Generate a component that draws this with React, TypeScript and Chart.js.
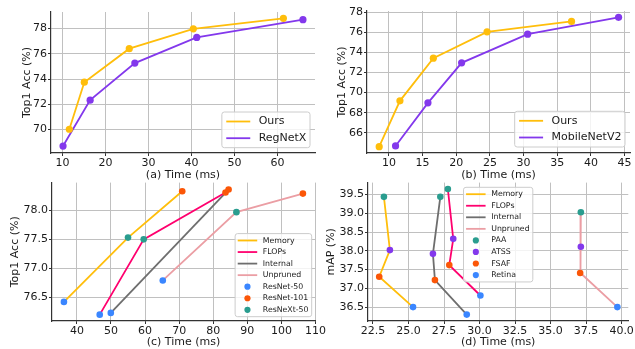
import React, { useEffect, useRef } from 'react';
import { Chart, registerables } from 'chart.js';

Chart.register(...registerables);

// ---------- (a) ImageNet: Ours vs RegNetX ----------
const xTicksA = [10, 20, 30, 40, 50, 60];
const yTicksA = [70, 72, 74, 76, 78];
const oursTimeA = [11.56, 15.05, 25.5, 40.4, 61.35];
const oursAccA = [70.03, 73.75, 76.4, 77.97, 78.8];
const regnetTimeA = [10.1, 16.4, 26.8, 41.2, 65.9];
const regnetAccA = [68.7, 72.33, 75.26, 77.29, 78.69];

// ---------- (b) Ours vs MobileNetV2 ----------
const xTicksB = [10, 15, 20, 25, 30, 35, 40, 45];
const yTicksB = [66, 68, 70, 72, 74, 76, 78];
const oursTimeB = [8.56, 11.64, 16.6, 24.58, 37.12];
const oursAccB = [64.63, 69.18, 73.42, 76.03, 77.06];
const mobileTimeB = [10.99, 15.8, 20.8, 30.6, 44.1];
const mobileAccB = [64.7, 68.98, 72.95, 75.8, 77.47];

// ---------- (c) pruning criteria on ResNet family ----------
const xTicksC = [40, 50, 60, 70, 80, 90, 100, 110];
const yTicksC = [76.5, 77.0, 77.5, 78.0];
const methods = ['Memory', 'FLOPs', 'Internal', 'Unpruned'];
// model order along each line: ResNet-50, ResNeXt-50, ResNet-101
const memoryTimeC = [36.2, 55.0, 70.9];
const memoryAccC = [76.42, 77.53, 78.33];
const flopsTimeC = [46.7, 59.6, 83.6];
const flopsAccC = [76.2, 77.5, 78.31];
const internalTimeC = [49.95, null, 84.5];
const internalAccC = [76.23, null, 78.36];
const unprunedTimeC = [65.2, 86.8, 106.3];
const unprunedAccC = [76.79, 77.97, 78.29];
const modelsC = ['ResNet-50', 'ResNet-101', 'ResNeXt-50'];
const modelIndexC = [0, 2, 1];

// ---------- (d) detectors ----------
const xTicksD = [22.5, 25.0, 27.5, 30.0, 32.5, 35.0, 37.5, 40.0];
const yTicksD = [36.5, 37.0, 37.5, 38.0, 38.5, 39.0, 39.5];
// detector order along each line: PAA, ATSS, FSAF, Retina
const modelsD = ['PAA', 'ATSS', 'FSAF', 'Retina'];
const memoryTimeD = [23.27, 23.69, 22.94, 25.32];
const memoryMapD = [39.44, 38.02, 37.31, 36.5];
const flopsTimeD = [27.77, 28.15, 27.87, 30.06];
const flopsMapD = [39.65, 38.32, 37.62, 36.81];
const internalTimeD = [27.24, 26.72, 26.86, 29.1];
const internalMapD = [39.44, 37.92, 37.22, 36.3];
const unprunedTimeD = [37.13, 37.13, 37.08, 39.7];
const unprunedMapD = [39.03, 38.11, 37.41, 36.5];

// ---------- styling ----------
const FONT = '"DejaVu Sans", sans-serif';
const TEXT = '#1a1a1a';
const GRID = '#c0c0c0';
const SPINE = '#333333';
const YELLOW = '#ffbe0b';
const PURPLE = '#8338ec';
const PINK = '#ff006e';
const GRAY = '#6e6e6e';
const LIGHTPINK = '#eb9ea4';
const BLUE = '#3a86ff';
const ORANGE = '#fb5607';
const TEAL = '#2a9d8f';
const methodColors = [YELLOW, PINK, GRAY, LIGHTPINK];
const modelColorsC = [BLUE, ORANGE, TEAL];
const modelColorsD = [TEAL, PURPLE, ORANGE, BLUE];

const pts = (xs: (number | null)[], ys: (number | null)[]) =>
  xs.map((x, i) => ({ x: x as number, y: ys[i] as number }));

type LegendItem = { label: string; kind: 'line' | 'dot'; color: string };
type LegendOpts = {
  items: LegendItem[];
  loc: 'lower right' | 'upper center';
  offX: number;
  offY: number;
  fontSize: number;
  padX: number;
  padRight: number;
  padY: number;
  handle: number;
  gap: number;
  rowH: number;
  lineWidth: number;
  dotR: number;
};

function makeLegend(o: LegendOpts) {
  return {
    id: 'boxLegend',
    afterDatasetsDraw(chart: any) {
      const { ctx, chartArea: ca } = chart;
      ctx.save();
      ctx.font = `${o.fontSize}px ${FONT}`;
      const tw = Math.max(...o.items.map((it) => ctx.measureText(it.label).width));
      const w = o.padX + o.handle + o.gap + tw + o.padRight;
      const h = o.padY * 2 + o.fontSize + o.rowH * (o.items.length - 1);
      let x: number;
      let y: number;
      if (o.loc === 'upper center') {
        x = (ca.left + ca.right) / 2 - w / 2;
        y = ca.top + o.offY;
      } else {
        x = ca.right - o.offX - w;
        y = ca.bottom - o.offY - h;
      }
      ctx.beginPath();
      ctx.roundRect(x, y, w, h, 2.5);
      ctx.fillStyle = 'rgba(255,255,255,0.8)';
      ctx.fill();
      ctx.strokeStyle = '#cccccc';
      ctx.lineWidth = 1;
      ctx.stroke();
      o.items.forEach((it, i) => {
        const cy = y + o.padY + o.fontSize / 2 + i * o.rowH;
        const hx = x + o.padX;
        if (it.kind === 'line') {
          ctx.beginPath();
          ctx.strokeStyle = it.color;
          ctx.lineWidth = o.lineWidth;
          ctx.moveTo(hx, cy);
          ctx.lineTo(hx + o.handle, cy);
          ctx.stroke();
        } else {
          ctx.beginPath();
          ctx.fillStyle = it.color;
          ctx.arc(hx + o.handle / 2, cy, o.dotR, 0, Math.PI * 2);
          ctx.fill();
        }
        ctx.fillStyle = TEXT;
        ctx.textBaseline = 'middle';
        ctx.textAlign = 'left';
        ctx.fillText(it.label, hx + o.handle + o.gap, cy);
      });
      ctx.restore();
    },
  };
}

function axis(
  horizontal: boolean,
  min: number,
  max: number,
  ticks: number[],
  title: string,
  size: number,
  titlePad: number,
  decimals: number
) {
  return {
    type: 'linear',
    min,
    max,
    afterBuildTicks: (s: any) => {
      s.ticks = ticks.map((v) => ({ value: v }));
    },
    afterFit: (s: any) => {
      if (horizontal) s.height = size;
      else s.width = size;
    },
    ticks: {
      autoSkip: false,
      maxRotation: 0,
      minRotation: 0,
      padding: 1,
      color: TEXT,
      font: { family: FONT, size: 11 },
      callback: (v: any) => Number(v).toFixed(decimals),
    },
    grid: {
      color: GRID,
      lineWidth: 1,
      drawTicks: true,
      tickLength: 3,
      tickColor: SPINE,
      tickWidth: 1,
    },
    border: { display: true, color: SPINE, width: 1.2 },
    title: {
      display: true,
      text: title,
      color: TEXT,
      font: { family: FONT, size: 11 },
      padding: horizontal ? { top: 0, bottom: titlePad } : { top: titlePad, bottom: 0 },
    },
  };
}

function lineSeries(label: string, xs: any[], ys: any[], color: string, radius: number, order: number) {
  return {
    label,
    data: pts(xs, ys),
    showLine: true,
    spanGaps: true,
    borderColor: color,
    backgroundColor: color,
    borderWidth: 1.8,
    pointRadius: radius,
    pointBackgroundColor: color,
    pointBorderColor: color,
    pointBorderWidth: 0,
    tension: 0,
    order,
  };
}

function dotSeries(label: string, data: { x: number; y: number }[], color: string) {
  return {
    label,
    data,
    showLine: false,
    backgroundColor: color,
    borderColor: color,
    pointRadius: 3.3,
    pointBorderWidth: 0,
    order: 0,
  };
}

function baseOptions(padding: any, x: any, y: any) {
  return {
    responsive: false,
    animation: false,
    devicePixelRatio: 1,
    layout: { padding },
    scales: { x, y },
    plugins: { legend: { display: false }, tooltip: { enabled: false } },
  };
}

const bigLegend = {
  loc: 'lower right' as const,
  fontSize: 11,
  padX: 4.4,
  padRight: 3.6,
  padY: 4,
  handle: 24,
  gap: 8.4,
  rowH: 16.7,
  lineWidth: 1.8,
  dotR: 3.5,
};

const smallLegend = {
  fontSize: 7.8,
  padX: 2.6,
  padRight: 3.2,
  padY: 3,
  handle: 19.5,
  gap: 5.6,
  rowH: 11.55,
  lineWidth: 1.8,
  dotR: 3.1,
};

function configA() {
  return {
    type: 'scatter',
    data: {
      datasets: [
        lineSeries('Ours', oursTimeA, oursAccA, YELLOW, 3.6, 0),
        lineSeries('RegNetX', regnetTimeA, regnetAccA, PURPLE, 3.6, 1),
      ],
    },
    options: baseOptions(
      { left: 0, top: 12, right: 5, bottom: 0 },
      axis(true, 7.3, 68.7, xTicksA, '(a) Time (ms)', 29, 0.4, 0),
      axis(false, 68.15, 79.3, yTicksA, 'Top1 Acc (%)', 51, 20.9, 0)
    ),
    plugins: [
      makeLegend({
        ...bigLegend,
        items: [
          { label: 'Ours', kind: 'line', color: YELLOW },
          { label: 'RegNetX', kind: 'line', color: PURPLE },
        ],
        offX: 5,
        offY: 5.3,
      }),
    ],
  };
}

function configB() {
  return {
    type: 'scatter',
    data: {
      datasets: [
        lineSeries('Ours', oursTimeB, oursAccB, YELLOW, 3.6, 0),
        lineSeries('MobileNetV2', mobileTimeB, mobileAccB, PURPLE, 3.6, 1),
      ],
    },
    options: baseOptions(
      { left: 0, top: 11, right: 5, bottom: 0 },
      axis(true, 6.75, 45.8, xTicksB, '(b) Time (ms)', 29, 0.4, 0),
      axis(false, 64.0, 78.1, yTicksB, 'Top1 Acc (%)', 47, 15.9, 0)
    ),
    plugins: [
      makeLegend({
        ...bigLegend,
        items: [
          { label: 'Ours', kind: 'line', color: YELLOW },
          { label: 'MobileNetV2', kind: 'line', color: PURPLE },
        ],
        offX: 5,
        offY: 6,
      }),
    ],
  };
}

function configC() {
  const times = [memoryTimeC, flopsTimeC, internalTimeC, unprunedTimeC];
  const accs = [memoryAccC, flopsAccC, internalAccC, unprunedAccC];
  const lines = methods.map((m, i) => lineSeries(m, times[i], accs[i], methodColors[i], 0, 1));
  const dots = modelsC.map((name, k) => {
    const idx = modelIndexC[k];
    const data: { x: number; y: number }[] = [];
    times.forEach((t, i) => {
      if (t[idx] !== null) data.push({ x: t[idx] as number, y: accs[i][idx] as number });
    });
    return dotSeries(name, data, modelColorsC[k]);
  });
  return {
    type: 'scatter',
    data: { datasets: [...dots, ...lines] },
    options: baseOptions(
      { left: 0, top: 5, right: 25, bottom: 0 },
      axis(true, 32.7, 109.85, xTicksC, '(c) Time (ms)', 29, 0.9, 0),
      axis(false, 76.09, 78.48, yTicksC, 'Top1 Acc (%)', 52, 8.1, 1)
    ),
    plugins: [
      makeLegend({
        ...smallLegend,
        loc: 'lower right',
        items: [
          ...methods.map((m, i) => ({ label: m, kind: 'line' as const, color: methodColors[i] })),
          ...modelsC.map((m, k) => ({ label: m, kind: 'dot' as const, color: modelColorsC[k] })),
        ],
        offX: 3.3,
        offY: 4.3,
      }),
    ],
  };
}

function configD() {
  const times = [memoryTimeD, flopsTimeD, internalTimeD, unprunedTimeD];
  const maps = [memoryMapD, flopsMapD, internalMapD, unprunedMapD];
  const lines = methods.map((m, i) => lineSeries(m, times[i], maps[i], methodColors[i], 0, 1));
  const dots = modelsD.map((name, k) =>
    dotSeries(
      name,
      times.map((t, i) => ({ x: t[k], y: maps[i][k] })),
      modelColorsD[k]
    )
  );
  return {
    type: 'scatter',
    data: { datasets: [...dots, ...lines] },
    options: baseOptions(
      { left: 0, top: 5, right: 5, bottom: 0 },
      axis(true, 22.15, 40.47, xTicksD, '(d) Time (ms)', 29, 0.9, 1),
      axis(false, 36.13, 39.82, yTicksD, 'mAP (%)', 48, 4.4, 1)
    ),
    plugins: [
      makeLegend({
        ...smallLegend,
        loc: 'upper center',
        items: [
          ...methods.map((m, i) => ({ label: m, kind: 'line' as const, color: methodColors[i] })),
          ...modelsD.map((m, k) => ({ label: m, kind: 'dot' as const, color: modelColorsD[k] })),
        ],
        offX: 0,
        offY: 4.7,
      }),
    ],
  };
}

const PANELS = [
  { left: 0, top: 0, width: 320, height: 182, config: configA },
  { left: 320, top: 0, width: 315, height: 182, config: configB },
  { left: 0, top: 175, width: 340, height: 175, config: configC },
  { left: 320, top: 175, width: 315, height: 175, config: configD },
];

export default function App() {
  const r0 = useRef<HTMLCanvasElement>(null);
  const r1 = useRef<HTMLCanvasElement>(null);
  const r2 = useRef<HTMLCanvasElement>(null);
  const r3 = useRef<HTMLCanvasElement>(null);
  const refs = [r0, r1, r2, r3];

  useEffect(() => {
    const charts = PANELS.map((p, i) => new Chart(refs[i].current as HTMLCanvasElement, p.config() as any));
    return () => charts.forEach((c) => c.destroy());
  }, []);

  return (
    <div
      style={{
        position: 'fixed',
        left: 0,
        top: 0,
        width: 635,
        height: 349,
        overflow: 'hidden',
        background: '#ffffff',
      }}
    >
      {PANELS.map((p, i) => (
        <canvas
          key={i}
          ref={refs[i]}
          width={p.width}
          height={p.height}
          style={{ position: 'absolute', left: p.left, top: p.top, width: p.width, height: p.height, display: 'block' }}
        />
      ))}
    </div>
  );
}
